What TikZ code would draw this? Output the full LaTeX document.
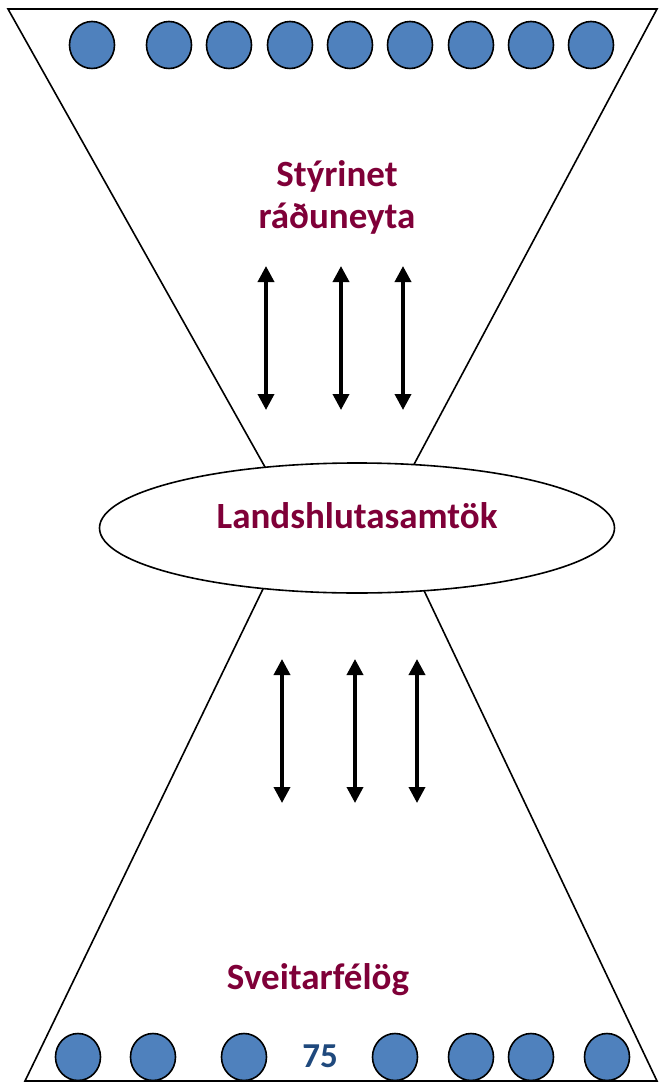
\documentclass[tikz,border=0pt]{standalone}
\usepackage{fontspec}
\setmainfont{Carlito}
\usetikzlibrary{shapes.geometric,arrows.meta}
\definecolor{maroon}{HTML}{7F0038}
\definecolor{dotblue}{HTML}{4F81BD}
\definecolor{numblue}{HTML}{1F497D}
\tikzset{
  outline/.style={line width=1.6pt, black},
  dot/.style={ellipse, draw=black, line width=1.6pt, fill=dotblue, minimum width=45pt, minimum height=47pt, inner sep=0pt},
  lbl/.style={text=maroon, font=\bfseries\fontsize{37}{42}\selectfont, inner sep=0pt, anchor=base, align=center},
  dblarrow/.style={line width=3.6pt, {Triangle[width=16pt,length=16pt]}-{Triangle[width=16pt,length=16pt]}, shorten <=0pt, shorten >=0pt}
}
\begin{document}
\begin{tikzpicture}[x=1pt,y=-1pt]
\useasboundingbox (0,0) rectangle (658,1083);
% top funnel
\coordinate (tl) at (8,9);
\coordinate (tr) at (657,9);
\coordinate (tlb) at (283.5,500);
\coordinate (trb) at (395,500);
\draw[outline, line join=miter] (tlb) -- (tl) -- (tr) -- (trb);
% bottom funnel
\coordinate (bl) at (25,1081);
\coordinate (br) at (657,1081);
\coordinate (blt) at (277,560);
\coordinate (brt) at (409.5,560);
\draw[outline, line join=miter] (blt) -- (bl) -- (br) -- (brt);
% ellipse
\node[ellipse, draw=black, line width=1.6pt, fill=white, minimum width=515pt, minimum height=130pt, inner sep=0pt] (mid) at (357,528) {};
\node[lbl] (midtxt) at (357,528) {Landshlutasamtök};
% labels
\node[lbl] (top1) at (337,187) {Stýrinet};
\node[lbl] (top2) at (337,229) {ráðuneyta};
\node[lbl] (bot) at (318,989) {Sveitarfélög};
\node[text=numblue, font=\bfseries\fontsize{35}{40}\selectfont, inner sep=0pt, anchor=base] (num) at (320,1067) {75};
% top dots
\foreach \x [count=\i] in {92,169,229,290,350,410,471,531,591}
  \node[dot] (t\i) at (\x,45) {};
% bottom dots
\foreach \x [count=\i] in {78,153,244,395,471,531,607}
  \node[dot] (b\i) at (\x,1057) {};
% arrows top
\foreach \x [count=\i] in {266,341,403}{
  \coordinate (ua\i) at (\x,266);
  \coordinate (ub\i) at (\x,410);
  \draw[dblarrow] (ua\i) -- (ub\i);
}
% arrows bottom
\foreach \x [count=\i] in {282,355,417}{
  \coordinate (la\i) at (\x,659);
  \coordinate (lb\i) at (\x,803);
  \draw[dblarrow] (la\i) -- (lb\i);
}
\end{tikzpicture}
\end{document}
